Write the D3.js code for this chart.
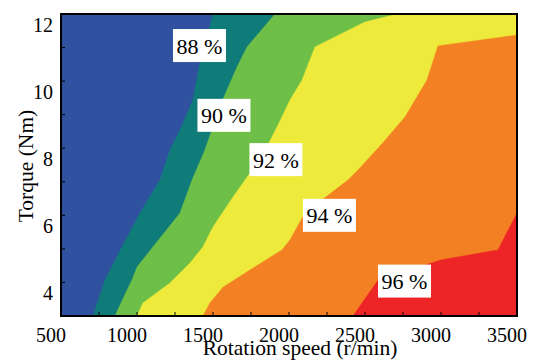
<!DOCTYPE html>
<html><head><meta charset="utf-8">
<script src="https://cdn.jsdelivr.net/npm/d3@7"></script>
<style>body{margin:0;background:#fff}svg{display:block}text{font-family:"Liberation Serif","Times New Roman",Times,"DejaVu Serif",serif}</style>
</head><body><svg id="c" width="538" height="360"></svg>
<script>
// contour boundaries: [speed r/min, torque Nm], from bottom to top
const levels = [88, 90, 92, 94, 96];
const bandColors = ["#3050a0", "#0f7c7a", "#6dbf47", "#eeea3b", "#f38022", "#ed2526"];
const boundary88 = [[711,3],[789,4.07],[901,5.06],[1020,6.07],[1151,7.05],[1217,7.95],[1283,8.54],[1368,9.44],[1414,10.54],[1500,12]];
const boundary90 = [[855,3],[934,3.77],[967,4.07],[1000,4.46],[1105,5.06],[1283,6.07],[1362,7.05],[1447,7.95],[1493,8.54],[1560,9.4],[1612,9.94],[1658,10.42],[1724,11.02],[1908,12]];
const boundary92 = [[1000,3],[1039,3.39],[1217,3.98],[1349,4.58],[1434,5.06],[1500,5.65],[1632,6.55],[1743,7.26],[1850,8.0],[1928,8.69],[2007,9.44],[2086,10.03],[2171,11.02],[2500,11.76],[2711,12]];
const boundary94 = [[1434,3],[1480,3.39],[1566,3.86],[1743,4.37],[1954,4.97],[2007,5.27],[2105,6.07],[2388,7.05],[2454,7.35],[2618,8.16],[2763,8.93],[2908,10.03],[2980,11.05],[3500,11.37]];
const boundary96 = [[2421,3],[2586,4.07],[3000,4.67],[3375,4.97],[3500,6.07]];
const boundaries = [boundary88, boundary90, boundary92, boundary94, boundary96];

const labelText = ["88 %", "90 %", "92 %", "94 %", "96 %"];
const labelSpeed = [1411, 1572, 1914, 2266, 2760];
const labelTorque = [11.06, 8.98, 7.66, 6.0, 4.04];

const xTicks = d3.range(500, 3501, 250);
const xTickLabels = [500, 1000, 1500, 2000, 2500, 3000, 3500];
const yTicks = d3.range(3, 12.01, 1);
const yTickLabels = [4, 6, 8, 10, 12];

const speedMin = 500, speedMax = 3500, torqueMin = 3, torqueMax = 12;

const svg = d3.select("#c");
const L = 61, R = 517, T = 14, B = 316;
const x = d3.scaleLinear().domain([speedMin, speedMax]).range([L, R]);
const y = d3.scaleLinear().domain([torqueMin, torqueMax]).range([B, T]);
const line = d3.line().x(d => x(d[0])).y(d => y(d[1]));

const g = svg.append("g");
g.append("rect").attr("x", x(speedMin)).attr("y", y(torqueMax))
  .attr("width", x(speedMax) - x(speedMin)).attr("height", y(torqueMin) - y(torqueMax))
  .attr("fill", bandColors[0]);
boundaries.forEach((b, i) => {
  const pts = b.slice();
  const last = pts[pts.length - 1];
  if (last[1] >= torqueMax) pts.push([speedMax, torqueMax]);
  pts.push([speedMax, torqueMin]);
  g.append("path").attr("d", line(pts) + "Z").attr("fill", bandColors[i + 1])
    .attr("stroke", bandColors[i + 1]).attr("stroke-width", 0.5);
});

labelText.forEach((t, i) => {
  const cx = x(labelSpeed[i]), cy = y(labelTorque[i]);
  g.append("rect").attr("x", cx - 26.5).attr("y", cy - 16.5).attr("width", 53).attr("height", 33).attr("fill", "#fff");
  g.append("text").attr("x", cx).attr("y", cy + 8).attr("text-anchor", "middle")
    .attr("font-size", 22).attr("fill", "#000").text(t);
});

const ax = svg.append("g");
ax.selectAll(".xt").data(xTicks).enter().append("line")
  .attr("x1", d => x(d)).attr("x2", d => x(d)).attr("y1", B).attr("y2", B - 4)
  .attr("stroke", "#000").attr("stroke-width", 1);
ax.selectAll(".yt").data(yTicks).enter().append("line")
  .attr("x1", L).attr("x2", L + 4).attr("y1", d => y(d)).attr("y2", d => y(d))
  .attr("stroke", "#000").attr("stroke-width", 1);
ax.append("rect").attr("x", L).attr("y", T).attr("width", R - L).attr("height", B - T)
  .attr("fill", "none").attr("stroke", "#000").attr("stroke-width", 2);

ax.selectAll(".xl").data(xTickLabels).enter().append("text")
  .attr("x", d => x(d) - 10).attr("y", B + 26).attr("text-anchor", "middle")
  .attr("font-size", 20).text(d => d);
ax.selectAll(".yl").data(yTickLabels).enter().append("text")
  .attr("x", 53).attr("y", d => y(d) + 18).attr("text-anchor", "end")
  .attr("font-size", 20).text(d => d);

svg.append("text").attr("x", 300).attr("y", 355).attr("text-anchor", "middle")
  .attr("font-size", 21.5).text("Rotation speed (r/min)");
svg.append("text").attr("transform", "translate(33,166) rotate(-90)").attr("text-anchor", "middle")
  .attr("font-size", 21.5).text("Torque (Nm)");
</script></body></html>
